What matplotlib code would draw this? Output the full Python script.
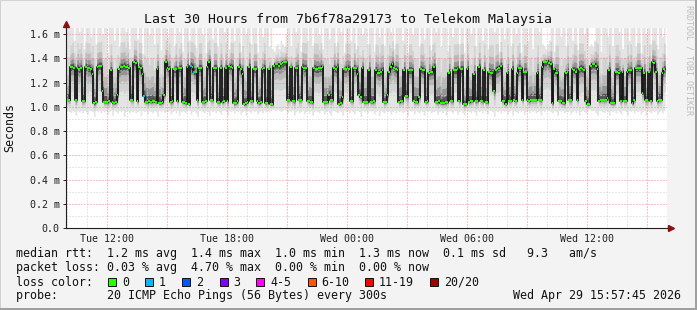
import matplotlib
matplotlib.use('Agg')
import matplotlib.pyplot as plt
from matplotlib.patches import Rectangle
from matplotlib.lines import Line2D
import numpy as np

W, H, DPI = 697, 310, 100
MONO = 'DejaVu Sans Mono'

# ---------------- data ----------------
# time in hours since Tue 00:00
t_end = 39 + 57 / 60 + 45 / 3600          # Wed 15:57:45
t_start = t_end - 30
first_step = 10.0                          # Tue 10:00
step_h = 5 / 60                            # 300 s

median_ms = [
    1.06, 1.06, 1.33, 1.33, 1.32, 1.06, 1.32, 1.31, 1.32, 1.05,
    1.05, 1.33, 1.32, 1.32, 1.31, 1.27, 1.03, 1.04, 1.33, 1.34,
    1.34, 1.13, 1.04, 1.04, 1.04, 1.05, 1.30, 1.04, 1.03, 1.04,
    1.10, 1.31, 1.33, 1.33, 1.34, 1.33, 1.33, 1.32, 1.06, 1.06,
    1.37, 1.36, 1.05, 1.33, 1.32, 1.27, 1.09, 1.04, 1.04, 1.05,
    1.04, 1.05, 1.05, 1.04, 1.31, 1.03, 1.03, 1.04, 1.10, 1.37,
    1.32, 1.31, 1.04, 1.05, 1.31, 1.31, 1.05, 1.32, 1.32, 1.04,
    1.04, 1.03, 1.33, 1.02, 1.34, 1.33, 1.29, 1.29, 1.06, 1.32,
    1.32, 1.04, 1.04, 1.05, 1.33, 1.37, 1.06, 1.06, 1.32,
    1.32, 1.04, 1.04, 1.32, 1.04, 1.05, 1.32, 1.05, 1.34, 1.33,
    1.32, 1.03, 1.03, 1.05, 1.33, 1.31, 1.27, 1.02, 1.03, 1.04,
    1.33, 1.05, 1.05, 1.31, 1.31, 1.05, 1.03, 1.04, 1.31, 1.32,
    1.03, 1.03, 1.31, 1.02, 1.02, 1.34, 1.35, 1.35, 1.34, 1.35,
    1.36, 1.37, 1.37, 1.06, 1.06, 1.33, 1.05, 1.05, 1.32, 1.32,
    1.06, 1.06, 1.33, 1.32, 1.32, 1.05, 1.05, 1.04, 1.04, 1.32,
    1.31, 1.31, 1.32, 1.32, 1.33, 1.04, 1.04, 1.04, 1.10, 1.06,
    1.06, 1.32, 1.31, 1.33, 1.02, 1.03, 1.08, 1.31, 1.31, 1.32,
    1.31, 1.05, 1.05, 1.32, 1.32, 1.27, 1.10, 1.08, 1.32, 1.04,
    1.04, 1.04, 1.30, 1.04, 1.04, 1.05, 1.30, 1.28, 1.28, 1.29,
    1.30, 1.04, 1.04, 1.10, 1.29, 1.33, 1.35, 1.32, 1.31, 1.30,
    1.04, 1.05, 1.05, 1.30, 1.09, 1.09, 1.30, 1.30, 1.30, 1.05,
    1.04, 1.04, 1.08, 1.31, 1.30, 1.30, 1.04, 1.05, 1.28, 1.29,
    1.29, 1.33, 1.04, 1.04, 1.05, 1.03, 1.03, 1.03, 1.04, 1.04,
    1.28, 1.05, 1.05, 1.30, 1.30, 1.31, 1.05, 1.31, 1.31, 1.02,
    1.02, 1.31, 1.04, 1.05, 1.05, 1.27, 1.05, 1.05, 1.33, 1.05,
    1.05, 1.30, 1.04, 1.04, 1.29, 1.28, 1.28, 1.13, 1.30, 1.31,
    1.32, 1.34, 1.05, 1.05, 1.02, 1.28, 1.05, 1.05, 1.31, 1.06,
    1.05, 1.28, 1.32, 1.32, 1.06, 1.29, 1.29, 1.06, 1.05, 1.06,
    1.06, 1.06, 1.06, 1.28, 1.06, 1.06, 1.33, 1.37, 1.37, 1.38,
    1.36, 1.35, 1.03, 1.31, 1.28, 1.28, 1.05, 1.05, 1.03, 1.03,
    1.28, 1.29, 1.06, 1.06, 1.31, 1.30, 1.29, 1.06, 1.31, 1.32,
    1.31, 1.30, 1.05, 1.02, 1.02, 1.34, 1.35, 1.35, 1.34, 1.31,
    1.05, 1.06, 1.06, 1.06, 1.06, 1.07, 1.30, 1.03, 1.03, 1.03,
    1.29, 1.29, 1.28, 1.05, 1.29, 1.05, 1.05, 1.29, 1.30, 1.30,
    1.03, 1.06, 1.32, 1.32, 1.32, 1.32, 1.11, 1.28, 1.06, 1.06,
    1.29, 1.05, 1.37, 1.36, 1.29, 1.05, 1.06, 1.06, 1.28, 1.31,
]

smoke_top_ms = [
    1.70, 1.70, 1.66, 1.70, 1.55, 1.70, 1.70, 1.62, 1.70, 1.70, 1.48, 1.70, 1.70, 1.70, 1.58, 1.70, 1.70, 1.52, 1.70, 1.70,
    1.70, 1.60, 1.70, 1.70, 1.45, 1.70, 1.70, 1.70, 1.55, 1.70, 1.70, 1.50, 1.70, 1.70, 1.70, 1.62, 1.70, 1.48, 1.70, 1.70,
    1.70, 1.70, 1.56, 1.70, 1.70, 1.44, 1.70, 1.70, 1.70, 1.60, 1.70, 1.70, 1.52, 1.70, 1.70, 1.70, 1.47, 1.70, 1.70, 1.70,
    1.58, 1.70, 1.70, 1.70, 1.50, 1.70, 1.70, 1.62, 1.70, 1.46, 1.70, 1.70, 1.70, 1.55, 1.70, 1.70, 1.70, 1.49, 1.70, 1.70,
    1.70, 1.60, 1.70, 1.45, 1.70, 1.70, 1.70, 1.56, 1.70, 1.70, 1.50, 1.70, 1.70, 1.70, 1.62, 1.70, 1.70, 1.48, 1.70, 1.70,
    1.55, 1.70, 1.70, 1.70, 1.46, 1.70, 1.70, 1.60, 1.70, 1.70, 1.52, 1.70, 1.70, 1.70, 1.45, 1.70, 1.70, 1.58, 1.70, 1.70,
    1.70, 1.50, 1.70, 1.48, 1.46, 1.50, 1.52, 1.48, 1.55, 1.52, 1.50, 1.60, 1.70, 1.70, 1.50, 1.70, 1.70, 1.62, 1.70, 1.70,
    1.46, 1.70, 1.70, 1.70, 1.55, 1.70, 1.70, 1.50, 1.70, 1.70, 1.70, 1.60, 1.70, 1.48, 1.70, 1.70, 1.70, 1.56, 1.70, 1.70,
    1.70, 1.50, 1.70, 1.70, 1.62, 1.70, 1.45, 1.70, 1.70, 1.70, 1.55, 1.70, 1.70, 1.48, 1.70, 1.70, 1.70, 1.60, 1.70, 1.70,
    1.52, 1.70, 1.70, 1.70, 1.46, 1.70, 1.70, 1.58, 1.70, 1.70, 1.50, 1.70, 1.70, 1.70, 1.62, 1.70, 1.48, 1.70, 1.70, 1.70,
    1.70, 1.55, 1.70, 1.70, 1.45, 1.70, 1.70, 1.60, 1.70, 1.70, 1.70, 1.50, 1.70, 1.70, 1.56, 1.70, 1.70, 1.70, 1.47, 1.70,
    1.70, 1.62, 1.70, 1.70, 1.50, 1.70, 1.70, 1.70, 1.46, 1.70, 1.70, 1.58, 1.70, 1.70, 1.70, 1.52, 1.70, 1.70, 1.45, 1.70,
    1.70, 1.70, 1.60, 1.70, 1.70, 1.50, 1.70, 1.70, 1.70, 1.55, 1.70, 1.70, 1.48, 1.70, 1.70, 1.70, 1.62, 1.70, 1.70, 1.46,
    1.70, 1.70, 1.56, 1.70, 1.70, 1.70, 1.50, 1.70, 1.70, 1.60, 1.70, 1.70, 1.45, 1.70, 1.70, 1.70, 1.55, 1.70, 1.70, 1.48,
    1.70, 1.70, 1.70, 1.62, 1.70, 1.52, 1.50, 1.48, 1.52, 1.55, 1.70, 1.70, 1.46, 1.70, 1.70, 1.70, 1.58, 1.70, 1.70, 1.50,
    1.70, 1.70, 1.70, 1.55, 1.70, 1.70, 1.47, 1.70, 1.70, 1.70, 1.60, 1.70, 1.70, 1.50, 1.52, 1.50, 1.55, 1.70, 1.70, 1.70,
    1.46, 1.70, 1.70, 1.70, 1.58, 1.70, 1.70, 1.50, 1.70, 1.70, 1.70, 1.62, 1.70, 1.48, 1.70, 1.70, 1.70, 1.55, 1.70, 1.70,
    1.70, 1.50, 1.70, 1.70, 1.45, 1.70, 1.70, 1.60, 1.70, 1.70, 1.52, 1.70, 1.70, 1.70, 1.48, 1.70, 1.70, 1.58, 1.70,
]

smoke_bot_ms = [
    0.97, 0.96, 0.95, 0.97, 0.96, 0.93, 0.97, 0.96, 0.97, 0.95, 0.97, 0.96, 0.94, 0.97, 0.97, 0.96, 0.92, 0.97, 0.96, 0.97,
    0.95, 0.97, 0.96, 0.97, 0.94, 0.96, 0.97, 0.93, 0.97, 0.96, 0.95, 0.97, 0.96, 0.97, 0.92, 0.96, 0.97, 0.95, 0.97, 0.96,
    0.97, 0.95, 0.96, 0.97, 0.93, 0.97, 0.96, 0.97, 0.94, 0.97, 0.96, 0.95, 0.97, 0.96, 0.92, 0.97, 0.96, 0.97, 0.95, 0.96,
    0.96, 0.97, 0.94, 0.96, 0.97, 0.95, 0.97, 0.93, 0.96, 0.97, 0.96, 0.95, 0.97, 0.97, 0.94, 0.96, 0.97, 0.95, 0.92, 0.97,
    0.97, 0.96, 0.95, 0.97, 0.96, 0.93, 0.97, 0.96, 0.97, 0.95, 0.97, 0.96, 0.94, 0.97, 0.97, 0.96, 0.93, 0.97, 0.96, 0.97,
    0.95, 0.97, 0.96, 0.97, 0.94, 0.96, 0.97, 0.93, 0.97, 0.96, 0.95, 0.97, 0.96, 0.97, 0.94, 0.96, 0.97, 0.95, 0.97, 0.96,
    0.97, 0.96, 0.97, 0.98, 0.98, 0.97, 0.98, 0.97, 0.96, 0.97, 0.98, 0.97, 0.95, 0.97, 0.96, 0.97, 0.93, 0.96, 0.97, 0.95,
    0.96, 0.97, 0.94, 0.96, 0.97, 0.95, 0.97, 0.93, 0.96, 0.97, 0.96, 0.95, 0.97, 0.97, 0.94, 0.96, 0.97, 0.95, 0.93, 0.97,
    0.97, 0.96, 0.95, 0.97, 0.96, 0.93, 0.97, 0.96, 0.97, 0.95, 0.97, 0.96, 0.94, 0.97, 0.97, 0.96, 0.92, 0.97, 0.96, 0.97,
    0.95, 0.97, 0.96, 0.97, 0.94, 0.96, 0.97, 0.93, 0.97, 0.96, 0.95, 0.97, 0.96, 0.97, 0.94, 0.96, 0.97, 0.95, 0.97, 0.96,
    0.97, 0.95, 0.96, 0.97, 0.93, 0.97, 0.96, 0.97, 0.94, 0.97, 0.96, 0.95, 0.97, 0.96, 0.93, 0.97, 0.96, 0.97, 0.95, 0.96,
    0.96, 0.97, 0.94, 0.96, 0.97, 0.95, 0.97, 0.93, 0.96, 0.97, 0.96, 0.95, 0.97, 0.97, 0.94, 0.96, 0.97, 0.95, 0.93, 0.97,
    0.97, 0.96, 0.95, 0.97, 0.96, 0.93, 0.97, 0.96, 0.97, 0.95, 0.97, 0.96, 0.94, 0.97, 0.97, 0.96, 0.92, 0.97, 0.96, 0.97,
    0.95, 0.97, 0.96, 0.97, 0.94, 0.96, 0.97, 0.93, 0.97, 0.96, 0.95, 0.97, 0.96, 0.97, 0.94, 0.96, 0.97, 0.95, 0.97, 0.96,
    0.97, 0.95, 0.96, 0.97, 0.93, 0.97, 0.96, 0.98, 0.97, 0.97, 0.96, 0.95, 0.97, 0.96, 0.93, 0.97, 0.96, 0.97, 0.95, 0.96,
    0.96, 0.97, 0.94, 0.96, 0.97, 0.95, 0.97, 0.93, 0.96, 0.97, 0.96, 0.95, 0.97, 0.98, 0.97, 0.97, 0.97, 0.95, 0.93, 0.97,
    0.97, 0.96, 0.95, 0.97, 0.96, 0.93, 0.97, 0.96, 0.97, 0.95, 0.97, 0.96, 0.94, 0.97, 0.97, 0.96, 0.93, 0.97, 0.96, 0.97,
    0.95, 0.97, 0.96, 0.97, 0.94, 0.96, 0.97, 0.93, 0.97, 0.96, 0.95, 0.97, 0.96, 0.97, 0.94, 0.96, 0.97, 0.95, 0.97,
]

loss_idx = [46, 74, 76]
loss_cnt = [1, 1, 1]

xtick_hours = [12, 18, 24, 30, 36]
xtick_labels = ['Tue 12:00', 'Tue 18:00', 'Wed 00:00', 'Wed 06:00', 'Wed 12:00']
ytick_vals = [0.0, 0.2, 0.4, 0.6, 0.8, 1.0, 1.2, 1.4, 1.6]
ytick_labels = ['0.0', '0.2 m', '0.4 m', '0.6 m', '0.8 m', '1.0 m', '1.2 m', '1.4 m', '1.6 m']

loss_labels = ['0', '1', '2', '3', '4-5', '6-10', '11-19', '20/20']
loss_colors = ['#26ff00', '#00b8ff', '#0059ff', '#7e00ff', '#ff00ff', '#ff5500', '#ff0000', '#a10000']

title = 'Last 30 Hours from 7b6f78a29173 to Telekom Malaysia'
row_rtt = 'median rtt:  1.2 ms avg  1.4 ms max  1.0 ms min  1.3 ms now  0.1 ms sd   9.3   am/s'
row_loss = 'packet loss: 0.03 % avg  4.70 % max  0.00 % min  0.00 % now'
row_color = 'loss color:'
row_probe = 'probe:       20 ICMP Echo Pings (56 Bytes) every 300s'
stamp = 'Wed Apr 29 15:57:45 2026'
watermark = 'RRDTOOL / TOBI OETIKER'

# ---------------- figure ----------------
BG = '#f3f3f3'
fig = plt.figure(figsize=(W / DPI, H / DPI), dpi=DPI, facecolor=BG)


def fx(px):
    return px / W


def fy(py):
    return 1 - py / H


AX_L, AX_R, AX_T, AX_B = 66, 667, 28, 228
ax = fig.add_axes([fx(AX_L), fy(AX_B), (AX_R - AX_L) / W, (AX_B - AX_T) / H])
ax.set_facecolor('white')
x_per_px = 30 / 600
ax.set_xlim(t_start, t_start + (AX_R - AX_L) * x_per_px)
ax.set_ylim(0, 1.65)

med = np.array(median_ms)
top = np.array(smoke_top_ms)
bot = np.array(smoke_bot_ms)
n = len(med)
starts = first_step + np.arange(n) * step_h
ends = starts + step_h
edges = np.append(starts, ends[-1])


def ext(a):
    return np.append(a, a[-1])


# smoke layers (lightest outermost)
layers = [(1.0, '#e4e4e4'), (0.55, '#d2d2d2'), (0.32, '#bababa'), (0.18, '#949494'), (0.08, '#555555')]
for f, c in layers:
    hi = med + (top - med) * f
    lo = med - (med - bot) * f
    ax.fill_between(edges, ext(lo), ext(hi), step='post', color=c, linewidth=0, zorder=1)

# grid
for h in np.arange(10, 40, 1):
    if h % 3 == 0:
        continue
    ax.axvline(h, color='#cfcfcf', lw=0.72, ls=(0, (1, 2)), zorder=2)
for h in np.arange(12, 40, 3):
    ax.axvline(h, color='#f08a8a', lw=0.72, ls=(0, (1, 2)), zorder=2)
for v in np.arange(0.1, 1.65, 0.2):
    ax.axhline(v, color='#cfcfcf', lw=0.72, ls=(0, (1, 2)), zorder=2)
for v in ytick_vals[1:]:
    ax.axhline(v, color='#f08a8a', lw=0.72, ls=(0, (1, 2)), zorder=2)

# median: dark transitions + colored points
ax.step(edges, ext(med), where='post', color='#151515', lw=1.3, zorder=3)
cols = [loss_colors[0]] * n
for i, c in zip(loss_idx, loss_cnt):
    cols[i] = loss_colors[c]
ax.hlines(med, starts, ends, colors=cols, lw=1.45, zorder=4)

# axes styling
for s in ['top', 'right']:
    ax.spines[s].set_visible(False)
for s in ['left', 'bottom']:
    ax.spines[s].set_color('#202020')
    ax.spines[s].set_linewidth(0.8)
ax.set_yticks(ytick_vals)
ax.set_yticklabels(ytick_labels, family=MONO, fontsize=7.2)
ax.set_xticks(xtick_hours)
ax.set_xticklabels(xtick_labels, family=MONO, fontsize=7.2)
ax.tick_params(axis='y', direction='out', length=2, width=0.7, pad=2.5, colors='#202020')
ax.tick_params(axis='x', direction='out', length=0, pad=4.5, colors='#202020')

# arrows
fig.add_artist(Line2D([fx(AX_L)], [fy(24)], marker='^', ms=5, color='#8b1010', mec='#8b1010'))
fig.add_artist(Line2D([fx(AX_R + 4)], [fy(AX_B)], marker='>', ms=5, color='#8b1010', mec='#8b1010'))

# texts
fig.text(fx(348.5), fy(19), title, family=MONO, fontsize=9.5, ha='center', va='center', color='#111111')
fig.text(fx(10), fy(128), 'Seconds', family=MONO, fontsize=8.4, rotation=90, ha='center', va='center', color='#111111')
fig.text(fx(689), fy(5), watermark, family=MONO, fontsize=6, rotation=270, ha='center', va='top', color='#bdbdbd')

LX = 16
fs = 8.37
fig.text(fx(LX), fy(254), row_rtt, family=MONO, fontsize=fs, va='center', color='#111111')
fig.text(fx(LX), fy(268), row_loss, family=MONO, fontsize=fs, va='center', color='#111111')
fig.text(fx(LX), fy(282), row_color, family=MONO, fontsize=fs, va='center', color='#111111')
fig.text(fx(LX), fy(296), row_probe, family=MONO, fontsize=fs, va='center', color='#111111')
fig.text(fx(681), fy(296), stamp, family=MONO, fontsize=fs, va='center', ha='right', color='#111111')

box_x = [108, 145, 182, 219.5, 256, 307.5, 365, 430]
for bx, lab, col in zip(box_x, loss_labels, loss_colors):
    fig.add_artist(Rectangle((fx(bx), fy(286)), 8 / W, 8 / H, facecolor=col,
                             edgecolor='#111111', linewidth=0.7, transform=fig.transFigure))
    fig.text(fx(bx + 14), fy(282), lab, family=MONO, fontsize=fs, va='center', color='#111111')

# frame
fig.add_artist(Rectangle((0, 0), fx(1), 1, facecolor='#d2d2d2', edgecolor='none', transform=fig.transFigure))
fig.add_artist(Rectangle((0, fy(1)), 1, 1 / H, facecolor='#d2d2d2', edgecolor='none', transform=fig.transFigure))
fig.add_artist(Rectangle((fx(W - 2), 0), 2 / W, 1, facecolor='#a0a0a0', edgecolor='none', transform=fig.transFigure))
fig.add_artist(Rectangle((0, 0), 1, 2 / H, facecolor='#a0a0a0', edgecolor='none', transform=fig.transFigure))

fig.savefig('out.png', dpi=DPI, facecolor=BG)
